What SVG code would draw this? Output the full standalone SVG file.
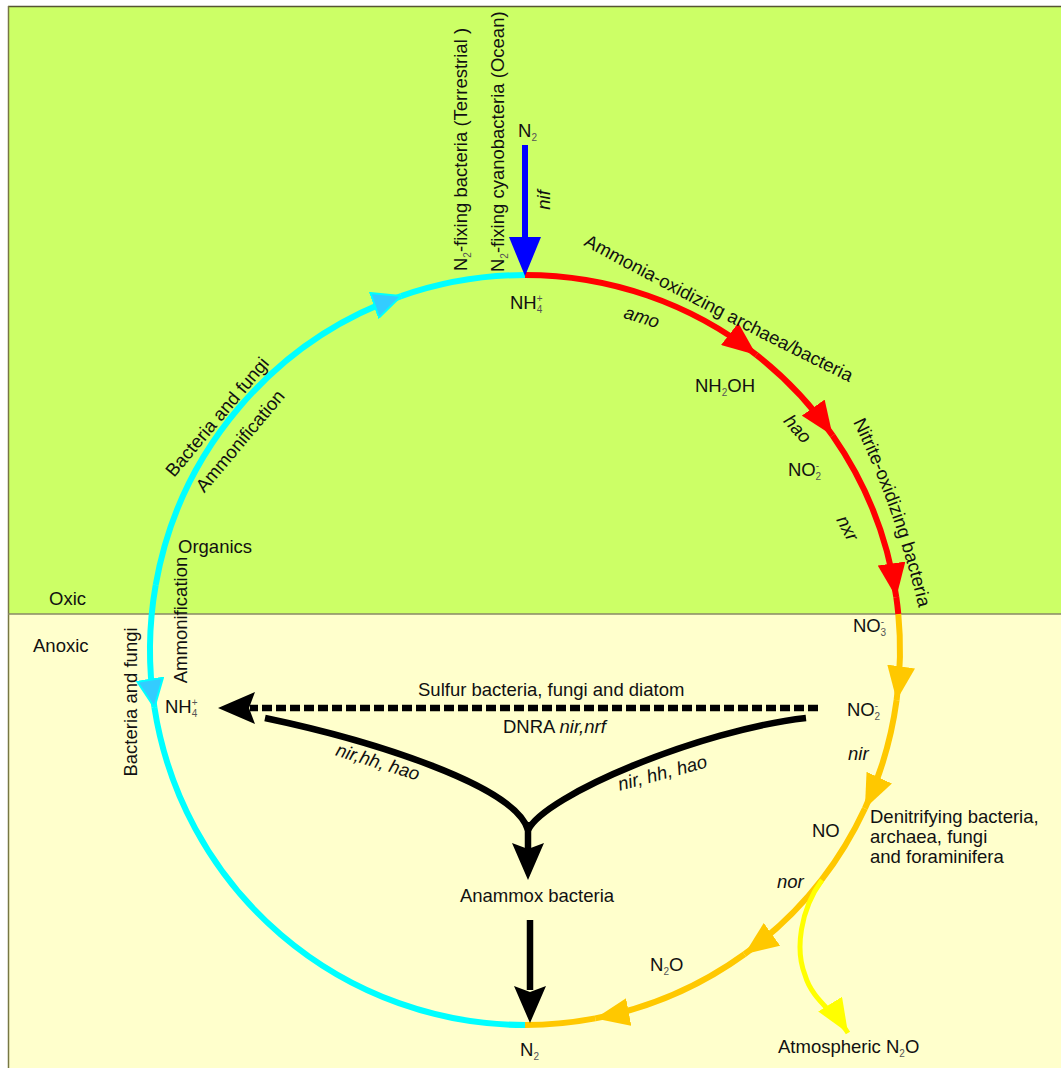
<svg xmlns="http://www.w3.org/2000/svg" width="1061" height="1068" viewBox="0 0 1061 1068">
<style>
text { font-family: "Liberation Sans", Arial, sans-serif; font-size: 18.5px; fill: #111; }
.i { font-style: italic; }
.s { font-size: 10px; fill: #555; }
.arc { fill: none; stroke-width: 6; }
.red { stroke: #ff0000; }
.org { stroke: #ffc800; }
.cyn { stroke: #00ffff; }
.blk { fill: none; stroke: #000; stroke-width: 6.5; }
</style>
<defs>
<marker id="mr" viewBox="0 0 34 28" refX="34" refY="14" markerWidth="34" markerHeight="28" markerUnits="userSpaceOnUse" orient="auto"><path d="M0,0 L34,14 L0,28 z" fill="#ff0000"/></marker>
<marker id="mo" viewBox="0 0 34 28" refX="34" refY="14" markerWidth="34" markerHeight="28" markerUnits="userSpaceOnUse" orient="auto"><path d="M0,0 L34,14 L0,28 z" fill="#ffc800"/></marker>
<marker id="my" viewBox="0 0 34 28" refX="34" refY="14" markerWidth="34" markerHeight="28" markerUnits="userSpaceOnUse" orient="auto"><path d="M0,0 L34,14 L0,28 z" fill="#ffff00"/></marker>
<marker id="mc" viewBox="0 0 30 28" refX="29" refY="14" markerWidth="30" markerHeight="28" markerUnits="userSpaceOnUse" orient="auto"><path d="M1,1 L29,14 L1,27 z" fill="#33ccff" stroke="#00ffff" stroke-width="2"/></marker>
<path id="pAmmonia" d="M 583 245 Q 718 318 855 385"/>
<path id="pNitrite" d="M 853 422 Q 894 506 918 605"/>
</defs>

<g id="background">
<rect x="0" y="0" width="1061" height="1068" fill="#ffffff"/>
<rect x="8" y="6" width="1053" height="608" fill="#ccff66"/>
<rect x="8" y="614" width="1053" height="454" fill="#ffffcc"/>
<path d="M8 6.5 H1061" stroke="#555533" stroke-width="1.5"/>
<path d="M8.5 6 V1068" stroke="#777744" stroke-width="1.5"/>
<path d="M8 614 H1061" stroke="#888866" stroke-width="1.5"/>
<text x="49" y="605">Oxic</text>
<text x="33" y="652">Anoxic</text>
</g>

<g id="connectors">
<!-- cyan ammonification arc -->
<path class="arc cyn" d="M 155.7 584.9 A 375 375 0 0 1 401.1 296.1" marker-end="url(#mc)"/>
<path class="arc cyn" d="M 401.1 296.1 A 375 375 0 0 1 525 275"/>
<path class="arc cyn" d="M 155.7 584.9 A 375 375 0 0 0 154.4 707.4" marker-end="url(#mc)"/>
<path class="arc cyn" d="M 154.4 707.4 A 375 375 0 0 0 525 1025"/>
<!-- red nitrification arc -->
<path class="arc red" d="M 525 275 A 375 375 0 0 1 756.4 354.9" marker-end="url(#mr)"/>
<path class="arc red" d="M 756.4 354.9 A 375 375 0 0 1 832.6 435.5" marker-end="url(#mr)"/>
<path class="arc red" d="M 832.6 435.5 A 375 375 0 0 1 896.3 597.2" marker-end="url(#mr)"/>
<path class="arc red" d="M 896.3 597.2 A 375 375 0 0 1 898.3 614.1"/>
<!-- orange denitrification arc -->
<path class="arc org" d="M 898.3 614.1 A 375 375 0 0 1 896.6 700.2" marker-end="url(#mo)"/>
<path class="arc org" d="M 896.6 700.2 A 375 375 0 0 1 864.9 808.5" marker-end="url(#mo)"/>
<path class="arc org" d="M 864.9 808.5 A 375 375 0 0 1 744.4 954.2" marker-end="url(#mo)"/>
<path class="arc org" d="M 744.4 954.2 A 375 375 0 0 1 595.3 1018.4" marker-end="url(#mo)"/>
<path class="arc org" d="M 595.3 1018.4 A 375 375 0 0 1 525 1025"/>
<!-- yellow atmospheric branch -->
<path fill="none" stroke="#ffff00" stroke-width="5" d="M 822 880 C 800 910, 795 950, 805 975 C 812 1000, 835 1012, 848 1033" marker-end="url(#my)"/>
<!-- blue N2 fixation -->
<path d="M525 145 V240" stroke="#0000ff" stroke-width="6"/>
<polygon points="525,276 509,237 541,237" fill="#0000ff"/>
<!-- DNRA dashed -->
<path d="M818 708 H250" stroke="#000" stroke-width="6.5" stroke-dasharray="10 4"/>
<polygon points="218,708 255,692 249,708 255,724" fill="#000"/>
<!-- anammox converging curves -->
<path class="blk" d="M 806 718 C 700 730, 545 795, 528 830"/>
<path class="blk" d="M 265 718 C 370 740, 515 785, 528 830"/>
<path class="blk" d="M 528 822 V850"/>
<polygon points="528,880 512,843 528,849 544,843" fill="#000"/>
<path class="blk" d="M 530 920 V990"/>
<polygon points="530,1023 514,986 530,992 546,986" fill="#000"/>
</g>

<g id="labels-process">
<text transform="translate(467,271) rotate(-90)">N<tspan class="s" dy="4">2</tspan><tspan dy="-4">-fixing bacteria (Terrestrial )</tspan></text>
<text transform="translate(504,272) rotate(-90)">N<tspan class="s" dy="4">2</tspan><tspan dy="-4">-fixing cyanobacteria (Ocean)</tspan></text>
<text class="i" transform="translate(550,200) rotate(-90)" text-anchor="middle">nif</text>
<text><textPath href="#pAmmonia">Ammonia-oxidizing archaea/bacteria</textPath></text>
<text><textPath href="#pNitrite">Nitrite-oxidizing bacteria</textPath></text>
<text class="i" transform="translate(640,323) rotate(17)" text-anchor="middle">amo</text>
<text class="i" transform="translate(793,433) rotate(48)" text-anchor="middle">hao</text>
<text class="i" transform="translate(842,531) rotate(62)" text-anchor="middle">nxr</text>
<text transform="translate(222,421) rotate(-50)" text-anchor="middle">Bacteria and fungi</text>
<text transform="translate(245,445) rotate(-50)" text-anchor="middle">Ammonification</text>
<text transform="translate(137,702) rotate(-90)" text-anchor="middle">Bacteria and fungi</text>
<text transform="translate(187,620) rotate(-90)" text-anchor="middle">Ammonification</text>
<text x="418" y="696">Sulfur bacteria, fungi and diatom</text>
<text x="503" y="733">DNRA <tspan class="i">nir,nrf</tspan></text>
<text class="i" transform="translate(664,779) rotate(-15)" text-anchor="middle">nir, hh, hao</text>
<text class="i" transform="translate(376,768) rotate(17)" text-anchor="middle">nir,hh, hao</text>
<text class="i" x="848" y="760">nir</text>
<text class="i" x="777" y="888">nor</text>
<text x="870" y="823">Denitrifying bacteria,</text>
<text x="870" y="843">archaea, fungi</text>
<text x="870" y="863">and foraminifera</text>
</g>

<g id="node-N2-top"><text x="518" y="137">N<tspan class="s" dy="4">2</tspan></text></g>
<g id="node-NH4-top"><text x="510" y="309">NH<tspan class="s" dy="-7">+</tspan><tspan class="s" dx="-5.8" dy="11">4</tspan></text></g>
<g id="node-NH2OH"><text x="695" y="392">NH<tspan class="s" dy="4">2</tspan><tspan dy="-4">OH</tspan></text></g>
<g id="node-NO2-oxic"><text x="788" y="476">NO<tspan class="s" dy="-7">-</tspan><tspan class="s" dx="-3.5" dy="11">2</tspan></text></g>
<g id="node-NO3"><text x="853" y="632">NO<tspan class="s" dy="-7">-</tspan><tspan class="s" dx="-3.5" dy="11">3</tspan></text></g>
<g id="node-NO2-anoxic"><text x="847" y="716">NO<tspan class="s" dy="-7">-</tspan><tspan class="s" dx="-3.5" dy="11">2</tspan></text></g>
<g id="node-NO"><text x="812" y="837">NO</text></g>
<g id="node-N2O"><text x="650" y="971">N<tspan class="s" dy="4">2</tspan><tspan dy="-4">O</tspan></text></g>
<g id="node-N2-bottom"><text x="520" y="1056">N<tspan class="s" dy="4">2</tspan></text></g>
<g id="node-anammox"><text x="537" y="902" text-anchor="middle">Anammox bacteria</text></g>
<g id="node-atm-N2O"><text x="778" y="1053">Atmospheric N<tspan class="s" dy="4">2</tspan><tspan dy="-4">O</tspan></text></g>
<g id="node-organics"><text x="178" y="553">Organics</text></g>
<g id="node-NH4-anoxic"><text x="165" y="713">NH<tspan class="s" dy="-7">+</tspan><tspan class="s" dx="-5.8" dy="11">4</tspan></text></g>
</svg>
